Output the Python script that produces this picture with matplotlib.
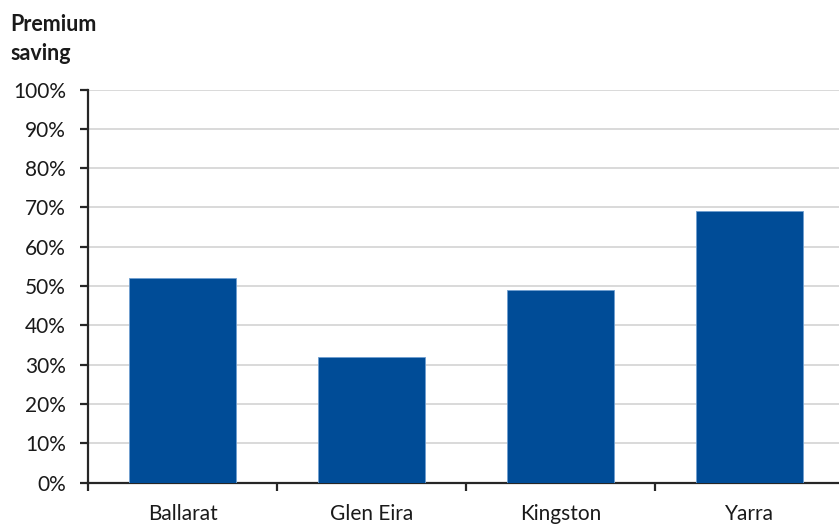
import matplotlib
matplotlib.use("Agg")
import matplotlib.pyplot as plt
from matplotlib.ticker import FuncFormatter

# Premium saving by council
councils = ["Ballarat", "Glen Eira", "Kingston", "Yarra"]
saving_pct = [52, 32, 49, 69]
y_ticks = list(range(0, 101, 10))

plt.rcParams["font.family"] = ["Lato", "DejaVu Sans"]

W, H, DPI = 839, 525, 100
fig = plt.figure(figsize=(W / DPI, H / DPI), dpi=DPI)

left, right, top, bottom = 88, 844, 89.5, 482.7
ax = fig.add_axes([left / W, 1 - bottom / H, (right - left) / W, (bottom - top) / H])

bar_color = "#004C97"
x = list(range(len(councils)))
ax.bar(x, saving_pct, width=0.57, color=bar_color, edgecolor="#6F9FD0",
       linewidth=0.6, zorder=3)

ax.set_xlim(-0.5, len(councils) - 0.5)
ax.set_ylim(0, 100)
ax.set_yticks(y_ticks)
ax.yaxis.set_major_formatter(FuncFormatter(lambda v, p: f"{int(v)}%"))
ax.grid(axis="y", color="#D9D9D9", linewidth=1.4, zorder=0)
ax.set_axisbelow(True)

for s in ["top", "right"]:
    ax.spines[s].set_visible(False)
for s in ["left", "bottom"]:
    ax.spines[s].set_color("#262626")
    ax.spines[s].set_linewidth(1.6)

# category labels centred, tick marks between categories
ax.set_xticks(x)
ax.set_xticklabels(councils)
ax.tick_params(axis="x", which="major", length=0, pad=15, labelsize=15,
               labelcolor="#1a1a1a")
ax.set_xticks([i - 0.5 for i in range(len(councils) + 1)], minor=True)
ax.tick_params(axis="x", which="minor", length=6, width=1.6, color="#262626",
               direction="out")
ax.tick_params(axis="y", length=6, width=1.6, color="#262626", pad=10,
               labelsize=15, labelcolor="#1a1a1a")

fig.text(10 / W, 1 - 14 / H, "Premium\nsaving", ha="left", va="top",
         fontsize=15.5, fontweight="bold", color="#1a1a1a", linespacing=1.5)

fig.savefig("out.png", dpi=DPI)
